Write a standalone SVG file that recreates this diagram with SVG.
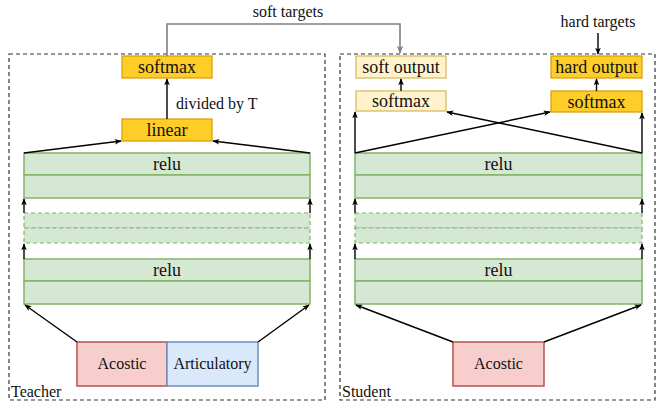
<svg xmlns="http://www.w3.org/2000/svg" width="656" height="402" viewBox="0 0 656 402">
<style>
text{font-family:"Liberation Serif","Times New Roman",serif;fill:#111}
.b{font-size:18px;text-anchor:middle}
.s{font-size:16px}
.c{text-anchor:middle}
.org{fill:#ffcd28;stroke:#d79b00;stroke-width:1.2}
.ylw{fill:#fff2cc;stroke:#d6b656;stroke-width:1.2}
.grn{fill:#d5e8d4;stroke:#82b366;stroke-width:1.5}
.grd{fill:#d5e8d4;stroke:#82b366;stroke-width:1.2;stroke-dasharray:4 3}
.red{fill:#f8cecc;stroke:#b85450;stroke-width:1.5}
.blu{fill:#dae8fc;stroke:#6c8ebf;stroke-width:1.5}
.frame{fill:none;stroke:#333;stroke-width:1.2;stroke-dasharray:4 3}
.e{fill:none;stroke:#000;stroke-width:1.4;marker-end:url(#a)}
.g{fill:none;stroke:#808080;stroke-width:1.6;marker-end:url(#ag)}
</style>
<defs>
<marker id="a" viewBox="0 0 10 8" refX="9" refY="4" markerWidth="7" markerHeight="6" markerUnits="userSpaceOnUse" orient="auto"><path d="M0,0 L10,4 L0,8 L2.5,4 z" fill="#000"/></marker>
<marker id="ag" viewBox="0 0 10 8" refX="9" refY="4" markerWidth="8" markerHeight="7" markerUnits="userSpaceOnUse" orient="auto"><path d="M0,0 L10,4 L0,8 L2.5,4 z" fill="#808080"/></marker>
</defs>
<g id="teacher-frame"><rect class="frame" x="9" y="54" width="316" height="346"/><text class="s" x="11" y="397">Teacher</text></g>
<g id="student-frame"><rect class="frame" x="340" y="54" width="315" height="346"/><text class="s" x="342" y="397">Student</text></g>

<g id="t-softmax"><rect class="org" x="122" y="56" width="90" height="22"/><text class="b" x="167" y="73">softmax</text></g>
<g id="t-linear"><rect class="org" x="122" y="119" width="90" height="22"/><text class="b" x="167" y="136">linear</text></g>
<g id="t-relu1"><rect class="grn" x="24" y="153" width="286" height="22"/><rect class="grn" x="24" y="175" width="286" height="23"/><text class="b" x="167" y="170">relu</text></g>
<g id="t-dash"><rect class="grd" x="24" y="213" width="286" height="15"/><rect class="grd" x="24" y="228" width="286" height="15"/></g>
<g id="t-relu2"><rect class="grn" x="24" y="259" width="286" height="22"/><rect class="grn" x="24" y="281" width="286" height="23"/><text class="b" x="167" y="276">relu</text></g>
<g id="t-acostic"><rect class="red" x="77" y="342" width="90" height="44"/><text class="s c" x="122" y="369">Acostic</text></g>
<g id="t-artic"><rect class="blu" x="167" y="342" width="91" height="44"/><text class="s c" x="212.5" y="369">Articulatory</text></g>

<g id="s-softout"><rect class="ylw" x="356" y="56" width="90" height="22"/><text class="b" x="401" y="73">soft output</text></g>
<g id="s-softmax1"><rect class="ylw" x="356" y="91" width="90" height="20"/><text class="b" x="401" y="107">softmax</text></g>
<g id="s-hardout"><rect class="org" x="551" y="56" width="91" height="22"/><text class="b" x="596.5" y="73">hard output</text></g>
<g id="s-softmax2"><rect class="org" x="551" y="91" width="91" height="21"/><text class="b" x="596.5" y="108">softmax</text></g>
<g id="s-relu1"><rect class="grn" x="355" y="153" width="287" height="22"/><rect class="grn" x="355" y="175" width="287" height="23"/><text class="b" x="498.5" y="170">relu</text></g>
<g id="s-dash"><rect class="grd" x="355" y="213" width="287" height="15"/><rect class="grd" x="355" y="228" width="287" height="15"/></g>
<g id="s-relu2"><rect class="grn" x="355" y="259" width="287" height="22"/><rect class="grn" x="355" y="281" width="287" height="23"/><text class="b" x="498.5" y="276">relu</text></g>
<g id="s-acostic"><rect class="red" x="453" y="342" width="91" height="44"/><text class="s c" x="498.5" y="369">Acostic</text></g>

<g id="labels">
<text class="s c" x="288" y="17">soft targets</text>
<text class="s c" x="598" y="27">hard targets</text>
<text class="s" x="176" y="109">divided by T</text>
</g>

<g id="connectors">
<path class="g" d="M167,56 V24 H400 V53"/>
<path class="e" d="M598,33 V54"/>
<path class="e" d="M167,119 V79"/>
<path class="e" d="M24,153 L121,141"/>
<path class="e" d="M310,153 L213,141"/>
<path class="e" d="M24,213 V199"/>
<path class="e" d="M310,213 V199"/>
<path class="e" d="M24,259 V244"/>
<path class="e" d="M310,259 V244"/>
<path class="e" d="M77,342 L25,305"/>
<path class="e" d="M258,342 L309,305"/>
<path class="e" d="M401,91 V79"/>
<path class="e" d="M596.5,91 V79"/>
<path class="e" d="M355,153 V112"/>
<path class="e" d="M642,153 V113"/>
<path class="e" d="M355,153 L550,112"/>
<path class="e" d="M642,153 L447,112"/>
<path class="e" d="M355,213 V199"/>
<path class="e" d="M642,213 V199"/>
<path class="e" d="M355,259 V244"/>
<path class="e" d="M642,259 V244"/>
<path class="e" d="M453,342 L356,305"/>
<path class="e" d="M544,342 L641,305"/>
</g>
</svg>
